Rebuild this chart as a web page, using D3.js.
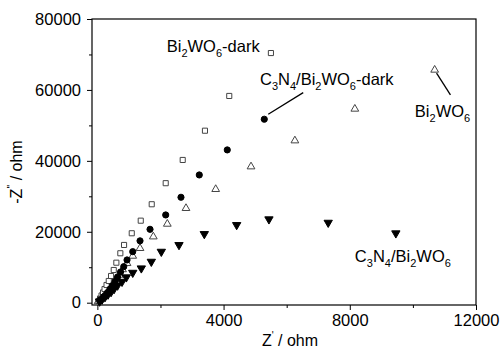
<!DOCTYPE html>
<html>
<head>
<meta charset="utf-8">
<script src="https://cdn.jsdelivr.net/npm/d3@7"></script>
<style>
  body { margin: 0; background: #fff; }
  svg { display: block; font-family: "Liberation Sans", Arial, sans-serif; }
  .tick text { font-size: 16.5px; fill: #000; }
  .tick line { stroke: #000; }
</style>
</head>
<body>
<div id="container"></div>
<script>
// data (Z' in ohm, -Z'' in ohm)
var darkBiX = [38, 85, 133, 180, 228, 291, 361, 434, 519, 602, 728, 846, 1090, 1375, 1723, 2166, 2705, 3410, 4180, 5500];
var darkBiY = [480, 1180, 2030, 2880, 3860, 4990, 6120, 7530, 9220, 11280, 13940, 16280, 19580, 23130, 27760, 33700, 40250, 48500, 58300, 70400];

var darkCnX = [86, 165, 244, 323, 402, 481, 560, 640, 735, 836, 940, 1121, 1352, 1669, 2166, 2650, 3230, 4117, 5290];
var darkCnY = [620, 1330, 2030, 2880, 3860, 4850, 5980, 7250, 8660, 10160, 12050, 14390, 17440, 20700, 24740, 29730, 36020, 43080, 51740];

var biX = [22, 101, 180, 260, 339, 418, 497, 592, 687, 798, 940, 1121, 1352, 1773, 2217, 2809, 3750, 4870, 6260, 8160, 10690];
var biY = [340, 900, 1610, 2450, 3300, 4290, 5270, 6540, 7810, 9370, 11110, 13170, 15350, 18620, 22200, 26630, 31990, 38370, 45700, 54640, 65640];

var cnX = [70, 149, 244, 339, 434, 529, 640, 782, 918, 1121, 1393, 1710, 2027, 2587, 3389, 4415, 5438, 7316, 9460];
var cnY = [340, 900, 1610, 2310, 3020, 3860, 4850, 5920, 7170, 8460, 9700, 11570, 14390, 16280, 19380, 21920, 23530, 22570, 19580];

var xTicks = [0, 4000, 8000, 12000];
var yTicks = [0, 20000, 40000, 60000, 80000];

var W = 503, H = 350;
var margin = {top: 19, right: 27, bottom: 45, left: 92};
var x0 = margin.left, x1 = W - margin.right,
    y0 = H - margin.bottom, y1 = margin.top;

var svg = d3.select("#container").append("svg")
    .attr("width", W)
    .attr("height", H);

var x = d3.scaleLinear().domain([-170, 12000]).range([x0, x1]);
var y = d3.scaleLinear().domain([-650, 80000]).range([y0, y1]);

// minor ticks
svg.append("g")
    .attr("transform", "translate(0," + y0 + ")")
    .call(d3.axisBottom(x).tickValues([2000, 6000, 10000]).tickSize(3).tickFormat(""))
    .call(function(g) { g.select(".domain").remove(); });
svg.append("g")
    .attr("transform", "translate(" + x0 + ",0)")
    .call(d3.axisLeft(y).tickValues([10000, 30000, 50000, 70000]).tickSize(3).tickFormat(""))
    .call(function(g) { g.select(".domain").remove(); });

// major ticks
svg.append("g")
    .attr("transform", "translate(0," + y0 + ")")
    .call(d3.axisBottom(x).tickValues(xTicks).tickSize(5).tickPadding(4).tickFormat(d3.format("d")))
    .call(function(g) { g.select(".domain").remove(); });
svg.append("g")
    .attr("transform", "translate(" + x0 + ",0)")
    .call(d3.axisLeft(y).tickValues(yTicks).tickSize(5).tickPadding(6).tickFormat(d3.format("d")))
    .call(function(g) { g.select(".domain").remove(); });

// frame
svg.append("rect")
    .attr("x", x0).attr("y", y1)
    .attr("width", x1 - x0).attr("height", y0 - y1)
    .attr("fill", "none").attr("stroke", "#000").attr("stroke-width", 1.2);

// series
function zip(xs, ys) {
    return xs.map(function(v, i) { return [v, ys[i]]; });
}

function drawSeries(pts, type, size, fill, stroke, rot) {
    svg.append("g").selectAll("path")
        .data(pts)
        .enter().append("path")
        .attr("d", d3.symbol().type(type).size(size))
        .attr("transform", function(d) {
            return "translate(" + x(d[0]) + "," + y(d[1]) + ")" + (rot ? " rotate(" + rot + ")" : "");
        })
        .attr("fill", fill)
        .attr("stroke", stroke)
        .attr("stroke-width", 1);
}

drawSeries(zip(biX, biY), d3.symbolTriangle, 26, "#fff", "#444", 0);
drawSeries(zip(darkBiX, darkBiY), d3.symbolSquare, 26, "#fff", "#444", 0);
drawSeries(zip(cnX, cnY), d3.symbolTriangle, 30, "#000", "#000", 180);
drawSeries(zip(darkCnX, darkCnY), d3.symbolCircle, 30, "#000", "#000", 0);

// labels with subscripts
function chem(str) {
    // "Bi_2WO_6-dark" -> parts
    var parts = [], prevSub = false;
    str.split(/(_\d)/).forEach(function(s) {
        if (!s) return;
        if (s[0] === "_") { parts.push({sub: s.slice(1)}); prevSub = true; }
        else { parts.push({t: s, back: prevSub}); prevSub = false; }
    });
    return parts;
}

function label(str, lx, ly) {
    var t = svg.append("text")
        .attr("x", x(lx)).attr("y", y(ly))
        .attr("font-size", "16.5px");
    chem(str).forEach(function(p) {
        if (p.sub) {
            t.append("tspan").attr("font-size", "11px").attr("dy", 5).text(p.sub);
        } else {
            t.append("tspan").attr("dy", p.back ? -5 : 0).text(p.t);
        }
    });
}

label("Bi_2WO_6-dark", 2198, 70800);
label("C_3N_4/Bi_2WO_6-dark", 5153, 61410);
label("Bi_2WO_6", 10062, 52470);
label("C_3N_4/Bi_2WO_6", 8161, 11570);

// leader lines
svg.append("line")
    .attr("x1", x(5416)).attr("y1", y(53150))
    .attr("x2", x(6524)).attr("y2", y(59240))
    .attr("stroke", "#000").attr("stroke-width", 1.3);
svg.append("line")
    .attr("x1", x(10750)).attr("y1", y(64710))
    .attr("x2", x(11190)).attr("y2", y(58590))
    .attr("stroke", "#000").attr("stroke-width", 1.3);

// axis titles
var xt = svg.append("text")
    .attr("x", (x0 + x1) / 2 + 6).attr("y", 346)
    .attr("text-anchor", "middle")
    .attr("font-size", "16px");
xt.append("tspan").text("Z");
xt.append("tspan").attr("font-size", "10px").attr("dy", -7).text("'");
xt.append("tspan").attr("dy", 7).text(" / ohm");

var yt = svg.append("text")
    .attr("transform", "translate(22,172) rotate(-90)")
    .attr("text-anchor", "middle")
    .attr("font-size", "16px");
yt.append("tspan").text("-Z");
yt.append("tspan").attr("font-size", "10px").attr("dy", -7).text("''");
yt.append("tspan").attr("dy", 7).text(" / ohm");
</script>
</body>
</html>
